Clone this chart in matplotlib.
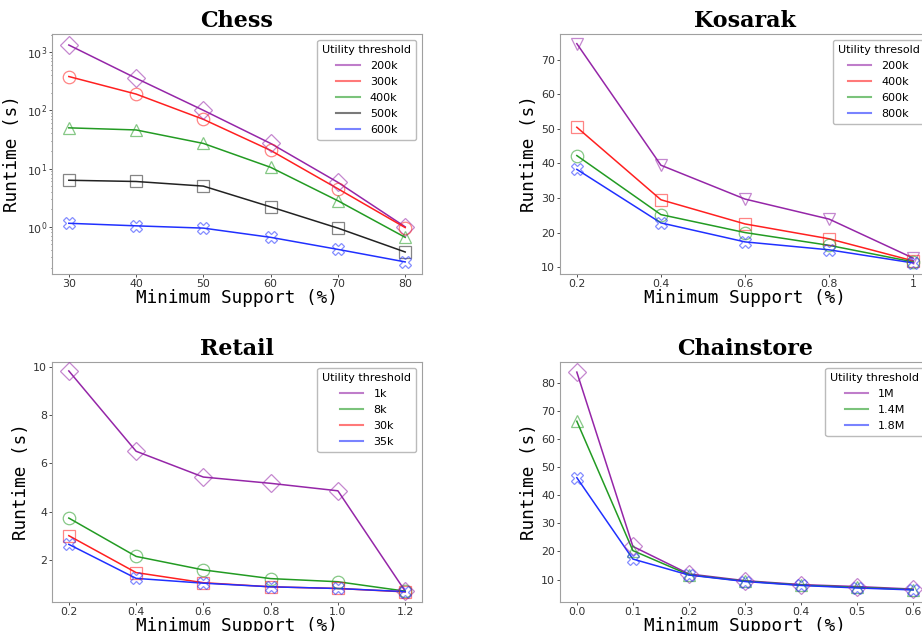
import matplotlib
matplotlib.use("Agg")
import matplotlib.pyplot as plt
from matplotlib.lines import Line2D

# ---------------- data ----------------
chess_x = [30, 40, 50, 60, 70, 80]
chess_labels = ["200k", "300k", "400k", "500k", "600k"]
chess_200k = [1320, 355, 100, 27, 5.8, 1.0]
chess_300k = [380, 190, 70, 20.5, 4.5, 0.97]
chess_400k = [50, 46, 27, 10.5, 2.8, 0.66]
chess_500k = [6.3, 6.0, 5.0, 2.2, 0.95, 0.37]
chess_600k = [1.15, 1.04, 0.95, 0.66, 0.41, 0.25]

kos_x = [0.2, 0.4, 0.6, 0.8, 1.0]
kos_ticklabels = ["0.2", "0.4", "0.6", "0.8", "1"]
kos_labels = ["200k", "400k", "600k", "800k"]
kos_200k = [74.7, 39.5, 29.7, 23.9, 12.6]
kos_400k = [50.5, 29.5, 22.5, 18.2, 11.8]
kos_600k = [42.3, 25.2, 20.0, 16.3, 11.5]
kos_800k = [38.3, 22.8, 17.3, 15.0, 11.2]

ret_x = [0.2, 0.4, 0.6, 0.8, 1.0, 1.2]
ret_ticklabels = ["0.2", "0.4", "0.6", "0.8", "1.0", "1.2"]
ret_labels = ["1k", "8k", "30k", "35k"]
ret_1k = [9.83, 6.5, 5.43, 5.17, 4.86, 0.70]
ret_8k = [3.73, 2.14, 1.58, 1.22, 1.09, 0.70]
ret_30k = [3.0, 1.47, 1.05, 0.88, 0.81, 0.67]
ret_35k = [2.64, 1.23, 1.03, 0.88, 0.81, 0.68]

chain_x = [0.0, 0.1, 0.2, 0.3, 0.4, 0.5, 0.6]
chain_ticklabels = ["0.0", "0.1", "0.2", "0.3", "0.4", "0.5", "0.6"]
chain_labels = ["1M", "1.4M", "1.8M"]
chain_1M = [83.9, 21.8, 12.0, 9.6, 8.2, 7.5, 6.6]
chain_14M = [66.4, 20.3, 11.7, 9.4, 8.0, 7.2, 6.4]
chain_18M = [46.3, 17.3, 11.6, 9.3, 7.9, 7.0, 6.3]

PURPLE = "#9526a8"
RED = "#ff2020"
GREEN = "#239b23"
BLACK = "#222222"
BLUE = "#2030ff"

fig = plt.figure(figsize=(9.22, 6.31), dpi=100)
W, H = 922, 631


def make_ax(left, top, width, height):
    return fig.add_axes([left / W, 1 - (top + height) / H, width / W, height / H])


def style(ax, title):
    ax.set_title(title, fontfamily="DejaVu Serif", fontweight="bold", fontsize=16, pad=5)
    ax.set_xlabel("Minimum Support (%)", fontfamily="DejaVu Sans Mono", fontsize=12.7, labelpad=0)
    ax.set_ylabel("Runtime (s)", fontfamily="DejaVu Sans Mono", fontsize=12.7, labelpad=2)
    for s in ax.spines.values():
        s.set_color("#a0a0a0")
    ax.tick_params(labelsize=7.9, colors="#333333", length=2, width=0.6, pad=1.5)
    ax.tick_params(which="minor", length=1, width=0.4)


def draw(ax, x, series, colors, markers, labels, legend_title):
    handles = []
    for y, c, m, lab in zip(series, colors, markers, labels):
        ax.plot(x, y, color=c, lw=1.1, zorder=2)
        ax.plot(x, y, linestyle="none", marker=m, markersize=9,
                markerfacecolor="none", markeredgecolor=c, markeredgewidth=0.9,
                alpha=0.55, zorder=3)
        handles.append(Line2D([0], [0], color=c, lw=1.5, alpha=0.6))
    leg = ax.legend(handles, labels, title=legend_title, loc="upper right",
                    fontsize=8, title_fontsize=8, handlelength=2.1,
                    borderpad=0.45, labelspacing=0.55, handletextpad=0.9,
                    fancybox=True, framealpha=1.0, borderaxespad=0.5)
    leg.get_frame().set_edgecolor("#bbbbbb")


# Chess
ax1 = make_ax(52, 34, 370, 240)
draw(ax1, chess_x, [chess_200k, chess_300k, chess_400k, chess_500k, chess_600k],
     [PURPLE, RED, GREEN, BLACK, BLUE], ["D", "o", "^", "s", "X"], chess_labels,
     "Utility threshold")
ax1.set_yscale("log")
ax1.set_xticks(chess_x)
ax1.set_xlim(27.5, 82.5)
ax1.set_ylim(0.155, 2040)
style(ax1, "Chess")
ax1.yaxis.labelpad = 4

# Kosarak
ax2 = make_ax(560, 34, 370, 240)
draw(ax2, kos_x, [kos_200k, kos_400k, kos_600k, kos_800k],
     [PURPLE, RED, GREEN, BLUE], ["v", "s", "o", "X"], kos_labels,
     "Utility thresold")
ax2.set_xticks(kos_x)
ax2.set_xticklabels(kos_ticklabels)
ax2.set_xlim(0.16, 1.04)
ax2.set_yticks([10, 20, 30, 40, 50, 60, 70])
ax2.set_ylim(8.0, 77.5)
style(ax2, "Kosarak")

# Retail
ax3 = make_ax(52, 362, 370, 240)
draw(ax3, ret_x, [ret_1k, ret_8k, ret_30k, ret_35k],
     [PURPLE, GREEN, RED, BLUE], ["D", "o", "s", "X"], ret_labels,
     "Utility threshold")
ax3.set_xticks(ret_x)
ax3.set_xticklabels(ret_ticklabels)
ax3.set_xlim(0.15, 1.25)
ax3.set_yticks([2, 4, 6, 8, 10])
ax3.set_ylim(0.25, 10.2)
style(ax3, "Retail")

# Chainstore
ax4 = make_ax(560, 362, 370, 240)
draw(ax4, chain_x, [chain_1M, chain_14M, chain_18M],
     [PURPLE, GREEN, BLUE], ["D", "^", "X"], chain_labels,
     "Utility threshold")
ax4.set_xticks(chain_x)
ax4.set_xticklabels(chain_ticklabels)
ax4.set_xlim(-0.03, 0.63)
ax4.set_yticks([10, 20, 30, 40, 50, 60, 70, 80])
ax4.set_ylim(2.0, 87.5)
style(ax4, "Chainstore")

fig.savefig("out.png", dpi=100)
